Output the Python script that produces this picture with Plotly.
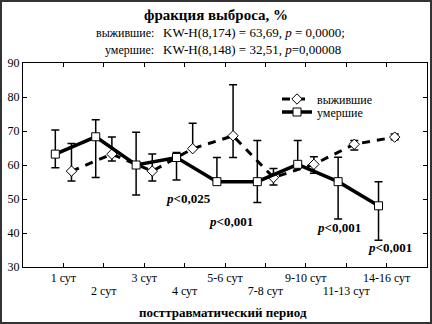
import plotly.graph_objects as go

categories = ["1 сут", "2 сут", "3 сут", "4 сут", "5-6 сут", "7-8 сут", "9-10 сут", "11-13 сут", "14-16 сут"]

surv_mean = [58.2, 63.2, 58.2, 64.8, 68.6, 56.3, 60.2, 66.1, 68.2]
surv_plus = [8.1, 5.0, 5.0, 7.5, 15.0, 2.7, 2.2, 1.1, 0.9]
surv_minus = [2.9, 2.0, 2.9, 0.0, 6.4, 2.2, 2.6, 1.7, 0.8]

died_mean = [63.2, 68.3, 60.0, 62.2, 55.1, 55.1, 60.2, 55.1, 48.0]
died_plus = [7.1, 5.0, 9.6, 1.5, 7.1, 12.1, 7.0, 7.2, 7.1]
died_minus = [4.0, 12.0, 8.8, 6.6, 0.0, 6.1, 0.0, 11.0, 10.1]

p_labels = ["p<0,025", "p<0,001", "p<0,001", "p<0,001"]
p_x = [4.09, 5.15, 7.83, 9.09]
p_y = [50.2, 43.5, 41.6, 35.6]

idx = list(range(1, len(categories) + 1))
off = 0.2
SERIF = "Liberation Serif, Times New Roman, serif"

W, H = 432, 324
ml, mr, mt, mb = 23, 5, 63, 57
pw, ph = W - ml - mr, H - mt - mb


def px(xp):
    return (xp - ml) / pw


def py(yp):
    return (H - mb - yp) / ph


fig = go.Figure()
fig.add_trace(go.Scatter(
    x=[i + off for i in idx], y=surv_mean, name="выжившие", legend="legend",
    mode="lines+markers",
    line=dict(color="black", width=3, dash="8px,7px"),
    marker=dict(symbol="diamond", size=8, color="white", line=dict(color="black", width=1)),
    error_y=dict(type="data", symmetric=False, array=surv_plus, arrayminus=surv_minus,
                 color="black", thickness=1.5, width=4),
))
fig.add_trace(go.Scatter(
    x=[i - off for i in idx], y=died_mean, name="умершие", legend="legend2", xaxis="x2",
    mode="lines+markers",
    line=dict(color="black", width=3.5),
    marker=dict(symbol="square", size=8, color="white", line=dict(color="black", width=1)),
    error_y=dict(type="data", symmetric=False, array=died_plus, arrayminus=died_minus,
                 color="black", thickness=1.5, width=4),
))

odd_text = [c if k % 2 == 0 else "" for k, c in enumerate(categories)]
even_vals = [v for k, v in enumerate(idx) if k % 2 == 1]
even_text = [c for k, c in enumerate(categories) if k % 2 == 1]

fig.update_layout(
    xaxis=dict(range=[0, 10], tickvals=idx, ticktext=odd_text, tickangle=0, automargin=False,
               showline=True, linecolor="black", linewidth=1, mirror="ticks", ticks="inside",
               ticklen=4, tickcolor="black", showgrid=False, zeroline=False,
               ticklabelstandoff=0,
               tickfont=dict(family=SERIF, size=12, color="black")),
    xaxis2=dict(range=[0, 10], matches="x", overlaying="x", anchor="y", side="bottom",
                tickvals=even_vals, ticktext=even_text, tickangle=0, automargin=False,
                showline=False, ticks="", showgrid=False, zeroline=False, ticklabelstandoff=15,
                tickfont=dict(family=SERIF, size=12, color="black")),
    yaxis=dict(range=[30, 90], dtick=10, showline=True, linecolor="black", linewidth=1, automargin=False,
               mirror="ticks", ticks="inside", ticklen=4, tickcolor="black", showgrid=False,
               zeroline=False, tickfont=dict(family=SERIF, size=12, color="black")),
)

annotations = []
for t, x, y in zip(p_labels, p_x, p_y):
    annotations.append(dict(x=x, y=y, xref="x", yref="y", showarrow=False,
                            text="<b><i>p</i>" + t[1:].replace("<", "&lt;") + "</b>",
                            font=dict(family=SERIF, size=13, color="black")))

annotations.append(dict(x=px(216), y=py(15), xref="paper", yref="paper", yanchor="middle",
                        text="<b>фракция выброса, %</b>",
                        showarrow=False, font=dict(family=SERIF, size=15, color="black")))
annotations.append(dict(x=px(223), y=py(312), xref="paper", yref="paper", yanchor="middle",
                        text="<b>посттравматический период</b>",
                        showarrow=False, font=dict(family=SERIF, size=13, color="black")))
lines = [("выжившие:", "KW-H(8,174) = 63,69, <i>p</i> = 0,0000;", 32.5),
         ("умершие:", "KW-H(8,148) = 32,51, <i>p</i>=0,00008", 49.5)]
for lab, stat, yy in lines:
    annotations.append(dict(x=px(156), y=py(yy), xref="paper", yref="paper", xanchor="right", yanchor="middle",
                            text=lab, showarrow=False, font=dict(family=SERIF, size=12, color="black")))
    annotations.append(dict(x=px(161), y=py(yy), xref="paper", yref="paper", xanchor="left", yanchor="middle",
                            text=stat, showarrow=False, font=dict(family=SERIF, size=13, color="black")))

leg_common = dict(xanchor="left", yanchor="middle", bgcolor="rgba(0,0,0,0)",
                  font=dict(family=SERIF, size=12, color="black"), itemwidth=30)

fig.update_layout(
    width=W, height=H, margin=dict(l=ml, r=mr, t=mt, b=mb, autoexpand=False),
    paper_bgcolor="white", plot_bgcolor="white",
    annotations=annotations,
    legend=dict(x=px(277), y=py(99), **leg_common),
    legend2=dict(x=px(277), y=py(112), **leg_common),
    shapes=[dict(type="rect", xref="paper", yref="paper", x0=px(1), x1=px(431), y0=py(323), y1=py(1),
                 line=dict(color="#333", width=2))],
    showlegend=True,
)

fig.write_html("out.html")
